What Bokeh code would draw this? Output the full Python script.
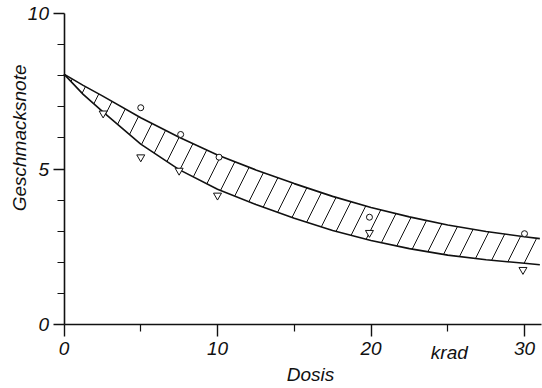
import math
from bokeh.plotting import figure
from bokeh.models import FixedTicker, Range1d
from bokeh.core.properties import value
from bokeh.embed import file_html
from bokeh.resources import INLINE

# Data
dose = [0, 1.25, 2.5, 5, 7.5, 10, 12.5, 15, 17.5, 20, 22.5, 25, 27.5, 30, 31]
upper = [8.05, 7.69, 7.35, 6.65, 6.02, 5.45, 4.97, 4.53, 4.12, 3.76, 3.46, 3.20, 2.99, 2.82, 2.76]
lower = [8.05, 7.40, 6.85, 5.80, 4.98, 4.35, 3.86, 3.42, 3.02, 2.70, 2.44, 2.23, 2.08, 1.97, 1.92]

circ_x = [5.0, 7.6, 10.1, 19.9, 30.0]
circ_y = [6.97, 6.11, 5.38, 3.45, 2.92]
tri_x = [2.55, 5.0, 7.5, 10.0, 19.9, 29.9]
tri_y = [6.79, 5.38, 4.95, 4.15, 2.95, 1.76]

x_major = [0, 10, 20, 30]
x_minor = [5, 15, 25]
y_major = [0, 5, 10]
y_minor = [1, 2, 3, 4, 6, 7, 8, 9]

y_title = "Geschmacksnote"
x_title = "Dosis"
x_unit = "krad"

FONT = "Liberation Sans"
FS = "19px"
INK = "#111111"

W, H = 542, 388
x0_px, x_scale = 63.5, 15.35          # figure-x of x=0, px per unit
y0_px, y_scale = 324.0, 31.1          # figure-y of y=0 (from top), px per unit

p = figure(width=W, height=H,
           x_range=Range1d(-x0_px / x_scale, (W - x0_px) / x_scale),
           y_range=Range1d(-(H - y0_px) / y_scale, y0_px / y_scale),
           output_backend="svg", toolbar_location=None,
           min_border_left=0, min_border_right=0,
           min_border_top=0, min_border_bottom=0)
p.grid.visible = False
p.outline_line_color = None
p.background_fill_color = "white"

p.varea(x=dose, y1=lower, y2=upper, fill_color=None,
        hatch_pattern="/", hatch_scale=34, hatch_weight=1, hatch_color=INK)
p.line(dose, upper, line_width=1.6, line_color=INK)
p.line(dose, lower, line_width=1.6, line_color=INK)

p.scatter(circ_x, circ_y, marker="circle", size=6, fill_color="white",
          line_color=INK, line_width=1)
p.scatter(tri_x, tri_y, marker="inverted_triangle", size=8, fill_color="white",
          line_color=INK, line_width=1)

for ax in (p.xaxis[0], p.yaxis[0]):
    ax.fixed_location = 0
    ax.axis_line_width = 1.6
    ax.axis_line_color = INK
    ax.major_tick_line_color = INK
    ax.minor_tick_line_color = INK
    ax.major_tick_line_width = 1.4
    ax.minor_tick_line_width = 1.2
    ax.major_tick_in = 0
    ax.minor_tick_in = 0
    ax.major_label_text_font = FONT
    ax.major_label_text_font_style = "italic"
    ax.major_label_text_font_size = FS
    ax.major_label_text_color = INK

p.xaxis.ticker = FixedTicker(ticks=x_major, minor_ticks=x_minor)
p.xaxis.major_tick_out = 12
p.xaxis.minor_tick_out = 7
p.xaxis.major_label_standoff = 5
p.xaxis.bounds = (0, 31.1)

p.yaxis.ticker = FixedTicker(ticks=y_major, minor_ticks=y_minor)
p.yaxis.major_tick_out = 11
p.yaxis.minor_tick_out = 7
p.yaxis.major_label_standoff = 4
p.yaxis.bounds = (0, 10)

def add_text(x, y, text, angle=0.0):
    p.text(x=[x], y=[y], text=[text], angle=angle,
           text_align="center", text_baseline="middle",
           text_font=value(FONT), text_font_style="italic",
           text_font_size=FS, text_color=INK)

add_text(-2.87, 6.0, y_title, angle=math.pi / 2)
add_text(16.06, -1.62, x_title)
add_text(25.1, -0.9, x_unit)

open("out.html", "w").write(file_html(p, INLINE))
